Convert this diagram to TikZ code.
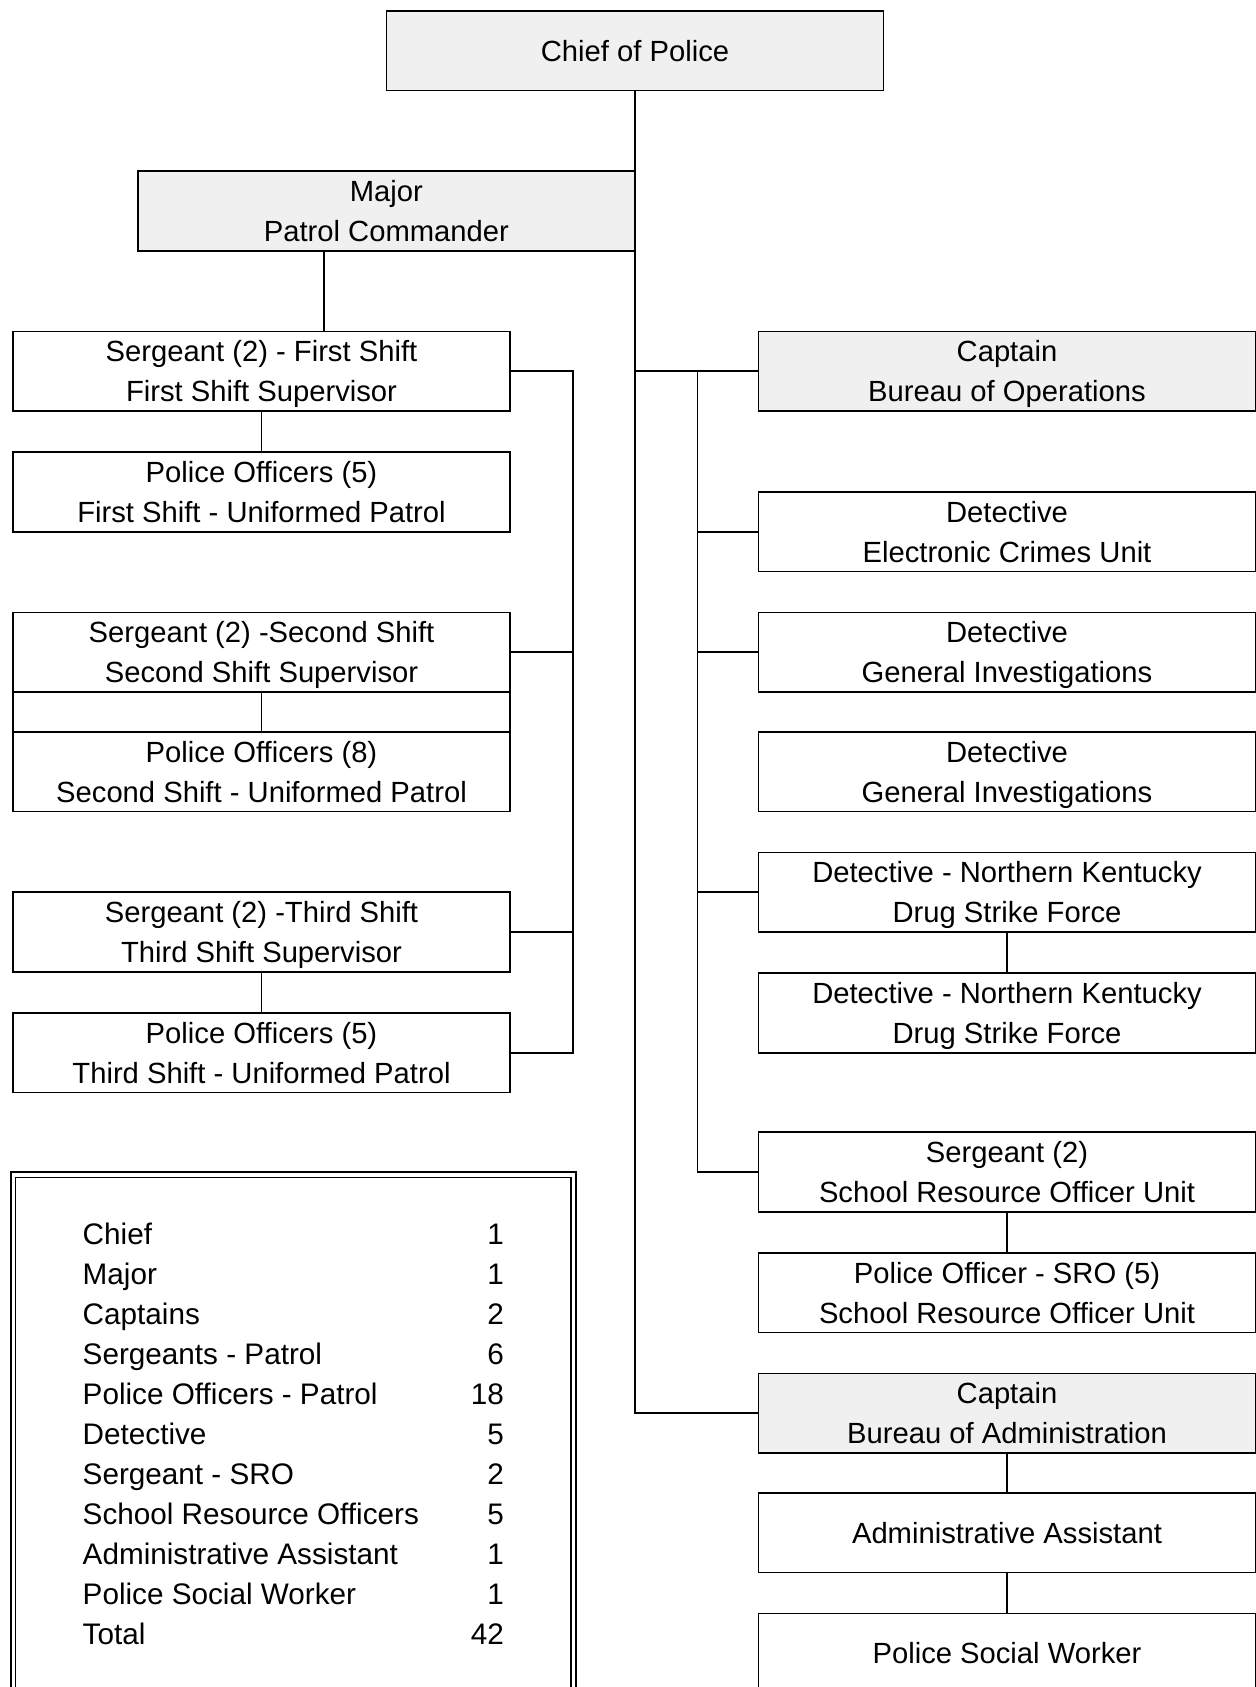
\documentclass[tikz,border=0pt]{standalone}
\usepackage{fontspec}
\setmainfont{Liberation Sans}
\usepackage{tikz}
\definecolor{boxgray}{RGB}{240,240,240}
\tikzset{
	unit/.style={draw, line width=0.9pt, outer sep=0pt, inner sep=0pt,
		minimum width=248.5pt, minimum height=39.8pt, align=center,
		text height=30.6pt, text depth=0pt,
		font=\fontsize{14.6}{20}\selectfont},
	single/.style={unit, text height=10.6pt},
	head/.style={unit, fill=boxgray},
	tally/.style={inner sep=0pt, text height=10.6pt, text depth=0pt,
		font=\fontsize{14.85}{20}\selectfont}
}

\begin{document}
\begin{tikzpicture}[x=0.5pt, y=-0.5pt, line width=0.9pt]
		\clip (0,0) rectangle (1256,1687);
		\node (CP) [head, single] at (635,50.6) 
			{Chief of Police}; 
		\node (MJ) [head] at (386.4,211) 
			{Major\\Patrol Commander}; 
		\node (S1) [unit] at (261.5,371.3) 
			{Sergeant (2) - First Shift\\First Shift Supervisor}; 
		\node (P1) [unit] at (261.5,491.9) 
			{Police Officers (5)\\First Shift - Uniformed Patrol}; 
		\node (S2) [unit] at (261.5,652.2) 
			{Sergeant (2) -Second Shift\\Second Shift Supervisor}; 
		\node (P2) [unit] at (261.5,771.7) 
			{Police Officers (8)\\Second Shift - Uniformed Patrol}; 
		\node (S3) [unit] at (261.5,932.1) 
			{Sergeant (2) -Third Shift\\Third Shift Supervisor}; 
		\node (P3) [unit] at (261.5,1052.6) 
			{Police Officers (5)\\Third Shift - Uniformed Patrol}; 
		\node (CO) [head] at (1007,371.3) 
			{Captain\\Bureau of Operations}; 
		\node (DE) [unit] at (1007,531.7) 
			{Detective\\Electronic Crimes Unit}; 
		\node (DG) [unit] at (1007,652.2) 
			{Detective\\General Investigations}; 
		\node (DH) [unit] at (1007,771.7) 
			{Detective\\General Investigations}; 
		\node (DN) [unit] at (1007,892.3) 
			{Detective - Northern Kentucky\\Drug Strike Force}; 
		\node (DK) [unit] at (1007,1012.8) 
			{Detective - Northern Kentucky\\Drug Strike Force}; 
		\node (SR) [unit] at (1007,1172.1) 
			{Sergeant (2)\\School Resource Officer Unit}; 
		\node (SO) [unit] at (1007,1292.6) 
			{Police Officer - SRO (5)\\School Resource Officer Unit}; 
		\node (CA) [head] at (1007,1413.2) 
			{Captain\\Bureau of Administration}; 
		\node (AA) [single] at (1007,1532.7) 
			{Administrative Assistant}; 
		\node (SW) [single] at (1007,1653.2) 
			{Police Social Worker}; 
		\coordinate (MD) at (324,251);
		\coordinate (LB) at (572.6,371.3);
		\coordinate (RB) at (697.4,371.3);
		\draw (CP.south) |- (CA.west);
		\draw (CP.south |- CO.west) -- (CO.west);
		\draw (MD) -- (MD |- S1.north);
		\draw (S1.east) -- (LB) |- (P3.east);
		\draw (S2.east) -- (LB |- S2.east);
		\draw (S3.east) -- (LB |- S3.east);
		\draw (S1.south) -- (P1.north);
		\draw (S2.south) -- (P2.north);
		\draw (S2.south west) -- (P2.north west);
		\draw (S2.south east) -- (P2.north east);
		\draw (S3.south) -- (P3.north);
		\draw (RB) |- (SR.west);
		\foreach \n in {DE,DG,DN}
			\draw (RB |- \n.west) -- (\n.west);
		\draw (DN.south) -- (DK.north);
		\draw (SR.south) -- (SO.north);
		\draw (CA.south) -- (AA.north);
		\draw (AA.south) -- (SW.north);
		\draw [line width=1.3pt] (10.8,1172) rectangle (576,1720);
		\draw [line width=0.6pt] (15.8,1177.5) rectangle (571,1720);
		\foreach \name/\num [count=\i] in {Chief/1, Major/1, Captains/2, Sergeants - Patrol/6, Police Officers - Patrol/18, Detective/5, Sergeant - SRO/2, School Resource Officers/5, Administrative Assistant/1, Police Social Worker/1, Total/42}
		{
			\node (L\i) [tally, anchor=west] at (81.8,1193.4+40.05*\i) 
				{\name};
			\node (N\i) [tally, anchor=east] at (504.8,1193.4+40.05*\i) 
				{\num};
		}
	\end{tikzpicture}
\end{document}
